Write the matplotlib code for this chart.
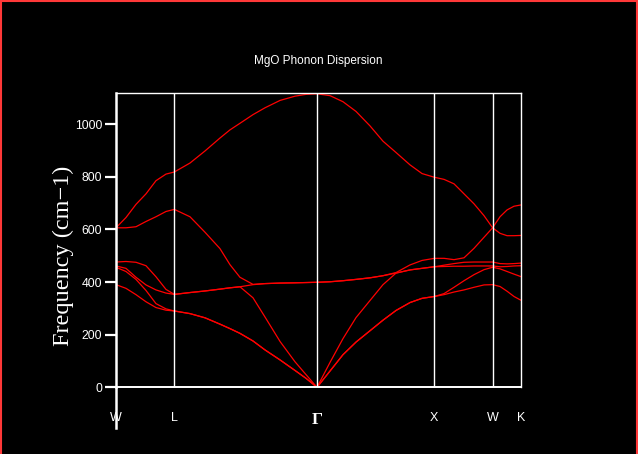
"""MgO phonon dispersion along W-L-G-X-W-K, black background style."""
import matplotlib
matplotlib.use("Agg")
import matplotlib.pyplot as plt
from matplotlib.lines import Line2D

# high-symmetry points (path distance, G-X = 1)
kpt_pos = [0.0, 0.496, 1.709, 2.707, 3.202, 3.446]
kpt_lab = ["W", "L", "Γ", "X", "W", "K"]

# sampled path positions
q = [0.0, 0.085, 0.170, 0.255, 0.340, 0.425, 0.496,
     0.629, 0.757, 0.884, 0.969, 1.054, 1.165, 1.267, 1.395, 1.522, 1.616, 1.709,
     1.820, 1.930, 2.041, 2.160, 2.270, 2.381, 2.500, 2.602, 2.707,
     2.789, 2.874, 2.959, 3.044, 3.129, 3.202,
     3.265, 3.325, 3.384, 3.446]

# frequencies (cm-1), one list per branch
band1 = [390, 376, 352, 325, 303, 293, 290,
         280, 264, 240, 223, 205, 176, 142, 104, 64, 34, 0,
         62, 124, 172, 215, 255, 292, 322, 338, 345,
         352, 362, 370, 380, 389, 390,
         383, 365, 345, 330]
band2 = [456, 440, 410, 368, 318, 298, 290,
         280, 264, 240, 223, 205, 176, 142, 104, 64, 34, 0,
         62, 124, 172, 215, 255, 292, 322, 338, 345,
         356, 380, 405, 428, 447, 456,
         450, 440, 430, 420]
band3 = [461, 452, 418, 389, 370, 358, 353,
         360, 366, 373, 378, 382, 340, 267, 174, 97, 48, 0,
         95, 185, 265, 330, 390, 434, 446, 452, 458,
         459, 460, 460, 461, 461, 461,
         458, 459, 461, 462]
band4 = [476, 478, 475, 462, 420, 372, 353,
         360, 366, 373, 378, 382, 390, 394, 396, 397, 398, 399,
         401, 405, 410, 416, 424, 434, 446, 452, 458,
         464, 470, 475, 476, 476, 476,
         470, 469, 470, 472]
band5 = [606, 606, 610, 630, 648, 668, 676,
         648, 589, 527, 466, 418, 391, 394, 396, 397, 398, 399,
         401, 405, 410, 416, 424, 436, 465, 482, 490,
         490, 485, 492, 528, 570, 606,
         585, 576, 576, 577]
band6 = [606, 645, 695, 735, 785, 810, 818,
         852, 898, 947, 978, 1003, 1036, 1062, 1090, 1106, 1113, 1115,
         1108, 1085, 1048, 993, 935, 892, 845, 812, 798,
         790, 773, 735, 697, 652, 606,
         648, 674, 688, 693]
bands = [band1, band2, band3, band4, band5, band6]

pix = ["Liberation Sans", "DejaVu Sans"]
serif = ["Liberation Serif", "DejaVu Serif"]
fig = plt.figure(figsize=(6.38, 4.54), dpi=100, facecolor="black")
ax = fig.add_axes([0.1818, 0.1469, 0.6353, 0.6476], facecolor="black")

for b in bands:
    ax.plot(q, b, color="#ff0000", lw=0.9)
for x in kpt_pos[1:-1]:
    ax.axvline(x, color="white", lw=1.0)

ax.set_xlim(kpt_pos[0], kpt_pos[-1])
ax.set_ylim(0, 1117)
ax.set_yticks([0, 200, 400, 600, 800, 1000])
ax.set_xticks(kpt_pos)
ax.set_xticklabels(kpt_lab)
for t in ax.get_xticklabels():
    if t.get_text() == "Γ":
        t.set_fontfamily(serif)
        t.set_fontsize(12.5)
        t.set_fontweight("bold")
    else:
        t.set_fontfamily(pix)
        t.set_fontsize(9)
for t in ax.get_yticklabels():
    t.set_fontfamily(pix)
    t.set_fontsize(8.8)
ax.tick_params(axis="x", length=0, pad=18, colors="white")
ax.tick_params(axis="y", length=8, width=1.6, pad=2, colors="white", direction="out")

for s in ["top", "right"]:
    ax.spines[s].set_color("white")
    ax.spines[s].set_linewidth(1.0)
ax.spines["left"].set_color("white")
ax.spines["left"].set_linewidth(1.8)
ax.spines["bottom"].set_color("white")
ax.spines["bottom"].set_linewidth(1.4)
# left axis line runs down past the frame
ax.plot([0, 0], [0, -0.14], transform=ax.transAxes, color="white", lw=1.8, clip_on=False)

fig.text(318 / 638, 1 - 61 / 454, "MgO Phonon Dispersion", color="white",
         family=pix, fontsize=8.5, ha="center", va="center")
fig.text(63 / 638, 1 - 256 / 454, "Frequency (cm\u22121)", color="white",
         family=serif, fontsize=17.5, rotation=90, ha="center", va="center")

# red frame round the picture
for xs, ys in [([0.8 / 638] * 2, [0, 1]), ([0, 1], [1 - 0.8 / 454] * 2),
               ([636.5 / 638] * 2, [0, 1])]:
    fig.add_artist(Line2D(xs, ys, transform=fig.transFigure, color="#ff3838", lw=1.5))

fig.savefig("out.png", dpi=100, facecolor="black")
